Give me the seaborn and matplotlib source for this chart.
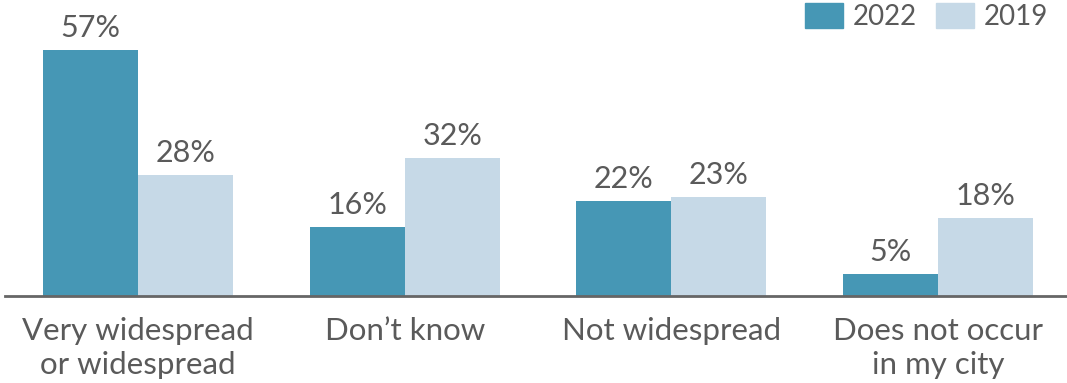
import matplotlib
matplotlib.use("Agg")
import matplotlib.pyplot as plt
import seaborn as sns
import pandas as pd

categories = ["Very widespread\nor widespread", "Don\u2019t know", "Not widespread", "Does not occur\nin my city"]
years = ["2022", "2019"]
values_2022 = [57, 16, 22, 5]
values_2019 = [28, 32, 23, 18]

colors = {"2022": "#4697b5", "2019": "#c6d9e7"}
text_color = "#5a5a5a"

df = pd.DataFrame({
    "category": categories * 2,
    "year": [years[0]] * len(categories) + [years[1]] * len(categories),
    "value": values_2022 + values_2019,
})

sns.set_theme(style="white")
plt.rcParams["font.family"] = ["Lato", "DejaVu Sans"]

W, H = 1067, 383
fig = plt.figure(figsize=(W / 100, H / 100), dpi=100)
ax = fig.add_axes([4.7 / W, 87 / H, 1066.7 / W, 296 / H])

sns.barplot(data=df, x="category", y="value", hue="year", hue_order=years,
            palette=colors, width=0.713, saturation=1, ax=ax, legend=False)

for patch in ax.patches:
    patch.set_linewidth(0)

for container in ax.containers:
    ax.bar_label(container, fmt="%g%%", padding=6, fontsize=22, color=text_color)

ax.set_xlim(-0.5, 3.5)
ax.set_ylim(0, 68.7)
ax.set_xlabel("")
ax.set_ylabel("")
ax.set_yticks([])
ax.tick_params(axis="x", length=0, pad=15, labelsize=22.5, labelcolor=text_color)
for lbl in ax.get_xticklabels():
    lbl.set_linespacing(1.25)
    lbl.set_verticalalignment("top")

for side in ["top", "right", "left"]:
    ax.spines[side].set_visible(False)
ax.spines["bottom"].set_color("#666666")
ax.spines["bottom"].set_linewidth(2)

handles = [plt.Rectangle((0, 0), 1, 1, color=colors[y]) for y in years]
leg = fig.legend(handles, years, ncol=2, loc="upper right",
                 bbox_to_anchor=(1051 / W, 1.0),
                 frameon=False, fontsize=20, handlelength=1.37, handleheight=1.04,
                 handletextpad=0.35, columnspacing=0.68, borderaxespad=0.0,
                 borderpad=0.1)
for t in leg.get_texts():
    t.set_color(text_color)

fig.savefig("out.png", dpi=100)
